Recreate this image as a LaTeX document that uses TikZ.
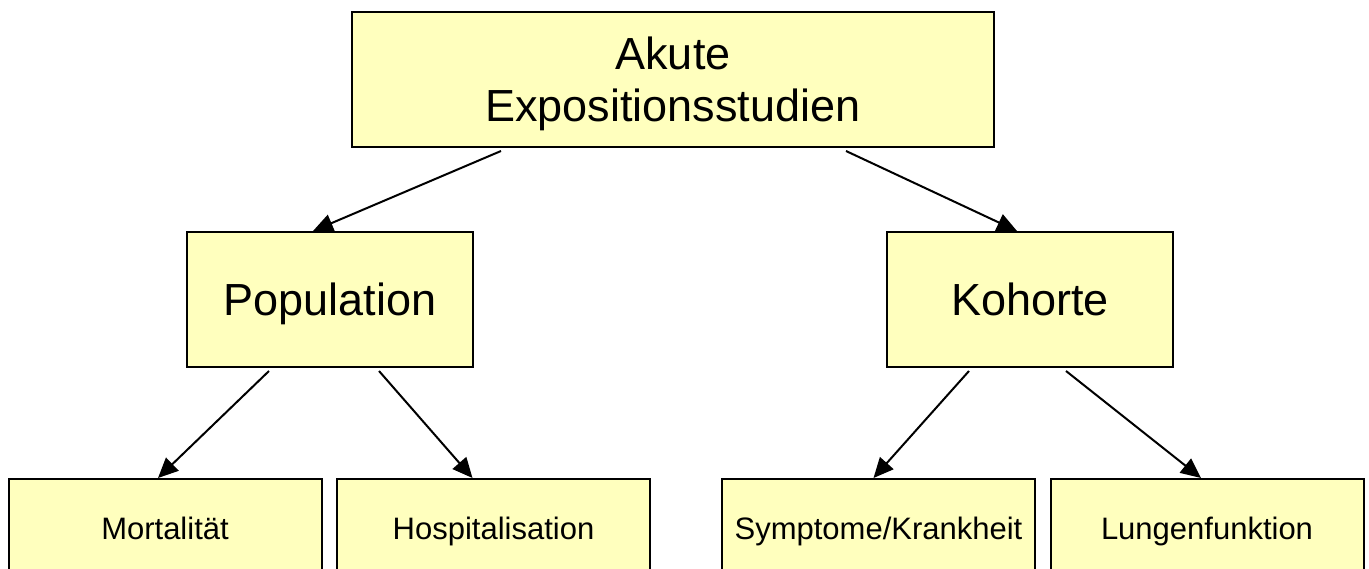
\documentclass[tikz,border=0pt]{standalone}
\usepackage{fontspec}
\setmainfont{Liberation Sans}
\usepackage{tikz}
\usetikzlibrary{arrows.meta}
\definecolor{boxfill}{RGB}{255,255,190}

\begin{document}
\begin{tikzpicture}[x=1pt, y=-1pt,
  box/.style={draw, line width=2pt, fill=boxfill, inner sep=0pt, align=center, text depth=0pt},
  bigbox/.style={box, minimum height=135pt, text height=32pt, font=\fontsize{45}{52}\selectfont},
  smallbox/.style={box, minimum width=313pt, minimum height=98pt, text height=22pt, font=\fontsize{31}{37}\selectfont},
  arr/.style={line width=2pt, -{Triangle[length=20pt, width=18pt]}}]

% Drawing window
\clip (0,0) rectangle (1369,569);

% Top level
\node[bigbox, minimum width=642pt, text height=84pt] (akut) at (673,79.5) {Akute\\Expositionsstudien};

% Second level
\node[bigbox, minimum width=286pt] (pop) at (330,299.5) {Population};
\node[bigbox, minimum width=286pt] (koh) at (1030,299.5) {Kohorte};

% Third level (cut off by the window)
\node[smallbox] (mort) at (165,528) {Mortalität};
\node[smallbox] (hosp) at (493.5,528) {Hospitalisation};
\node[smallbox] (symp) at (878.5,528) {Symptome/Krankheit};
\node[smallbox] (lung) at (1207,528) {Lungenfunktion};

% Arrows
\draw[arr] ([xshift=-172pt, yshift=-3pt]akut.south) -- ([xshift=-17pt]pop.north);
\draw[arr] ([xshift=173pt, yshift=-3pt]akut.south) -- ([xshift=-13pt]koh.north);
\draw[arr] ([xshift=-61pt, yshift=-3pt]pop.south) -- ([xshift=-7pt]mort.north);
\draw[arr] ([xshift=49pt, yshift=-3pt]pop.south) -- ([xshift=-21pt]hosp.north);
\draw[arr] ([xshift=-61pt, yshift=-3pt]koh.south) -- ([xshift=-5pt]symp.north);
\draw[arr] ([xshift=36pt, yshift=-3pt]koh.south) -- ([xshift=-6pt]lung.north);

\end{tikzpicture}
\end{document}
